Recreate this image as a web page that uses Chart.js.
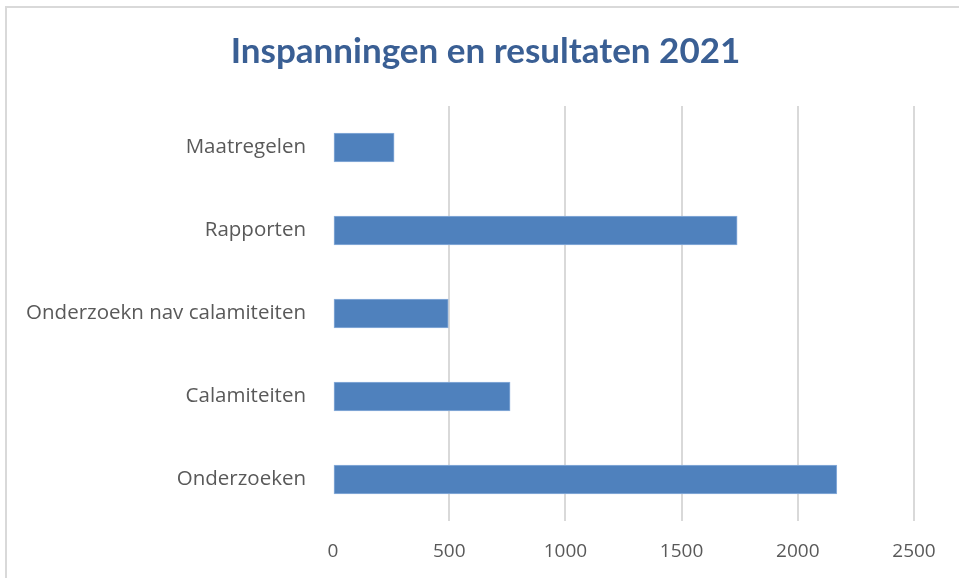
<!DOCTYPE html>
<html>
<head>
<meta charset="utf-8">
<script src="https://cdn.jsdelivr.net/npm/chart.js@4"></script>
<style>
  html, body { margin: 0; padding: 0; background: #fff; }
  #wrap { position: relative; width: 959px; height: 578px; overflow: hidden; }
  #frame { position: absolute; left: 5px; top: 6px; width: 1000px; height: 1000px;
           border-top: 2px solid #d9d9d9; border-left: 2px solid #d9d9d9; pointer-events: none; }
  canvas { position: absolute; left: 0; top: 0; }
</style>
</head>
<body>
<div id="wrap">
  <canvas id="c" width="959" height="578"></canvas>
  <div id="frame"></div>
</div>
<script>
const titleText = "Inspanningen en resultaten 2021";
const categories = ["Maatregelen", "Rapporten", "Onderzoekn nav calamiteiten", "Calamiteiten", "Onderzoeken"];
const values = [263, 1739, 496, 762, 2168];
const xTicks = [0, 500, 1000, 1500, 2000, 2500];

const titlePlugin = {
  id: 'frameTitle',
  afterDraw(chart) {
    const c = chart.ctx;
    c.save();
    c.font = 'bold 35px Lato';
    c.fillStyle = '#3A5F94';
    c.textAlign = 'center';
    c.textBaseline = 'middle';
    c.fillText(titleText, (12 + chart.width) / 2, 52);
    c.restore();
  }
};

const ctx = document.getElementById('c').getContext('2d');
new Chart(ctx, {
  type: 'bar',
  data: {
    labels: categories,
    datasets: [{
      data: values,
      backgroundColor: '#4F81BD',
      borderColor: '#8DB0DC',
      borderWidth: 1,
      borderSkipped: false,
      barThickness: 29
    }]
  },
  options: {
    indexAxis: 'y',
    responsive: false,
    animation: false,
    layout: { padding: { left: 0, right: 45, top: 106, bottom: 0 } },
    plugins: {
      legend: { display: false },
      tooltip: { enabled: false },
      title: { display: false }
    },
    scales: {
      x: {
        min: 0, max: 2500,
        afterBuildTicks: s => { s.ticks = xTicks.map(v => ({ value: v })); },
        grid: {
          color: c => (c.tick && c.tick.value === 0) ? 'rgba(0,0,0,0)' : '#d9d9d9',
          lineWidth: 2,
          drawTicks: false
        },
        border: { display: false },
        ticks: {
          color: '#595959',
          font: { family: 'Open Sans', size: 19 },
          padding: 19,
          callback: v => String(v)
        },
        afterFit: s => { s.height = 57; }
      },
      y: {
        grid: { display: false },
        border: { display: false },
        ticks: {
          color: '#595959',
          font: { family: 'Open Sans', size: 20.5 },
          padding: 19
        },
        afterFit: s => { s.width = 333; }
      }
    }
  },
  plugins: [titlePlugin]
});
</script>
</body>
</html>
